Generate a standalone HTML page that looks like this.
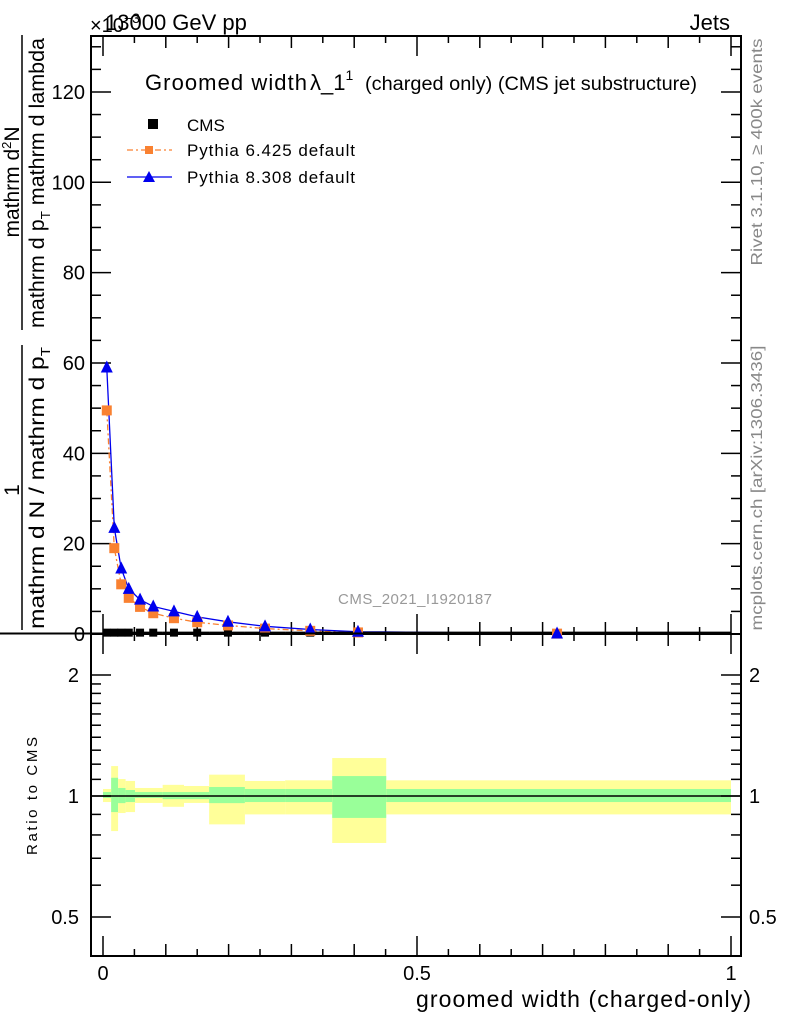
<!DOCTYPE html>
<html><head><meta charset="utf-8"><style>
html,body{margin:0;padding:0;background:#fff}
svg{display:block;font-family:"Liberation Sans",sans-serif}
</style></head><body>
<svg id="chart" xmlns="http://www.w3.org/2000/svg" width="786" height="1024" viewBox="0 0 786 1024">
<g id="bands"></g>
<g id="axes"></g>
<g id="series"></g>
<text x="105" y="30" font-size="22">13000 GeV pp</text>
<text x="90" y="32" font-size="20">×10<tspan font-size="14" dy="-9">−3</tspan></text>
<text x="730" y="30" font-size="22" text-anchor="end">Jets</text>
<text x="145" y="90" font-size="22"><tspan textLength="162">Groomed width</tspan><tspan x="310">λ_1</tspan><tspan font-size="14" dy="-10">1</tspan><tspan font-size="19" dy="10" x="365" textLength="332" lengthAdjust="spacingAndGlyphs">(charged only) (CMS jet substructure)</tspan></text>
<g>
 <rect x="148" y="119" width="10" height="10" fill="#000"/>
 <text x="187" y="131" font-size="17">CMS</text>
 <line x1="127" y1="150" x2="172" y2="150" stroke="#f98131" stroke-width="1.3" stroke-dasharray="6,3,2,3"/>
 <rect x="145" y="146" width="8" height="8" fill="#f98131"/>
 <text x="187" y="156" font-size="17" textLength="168">Pythia 6.425 default</text>
 <line x1="127" y1="177" x2="172" y2="177" stroke="#0000ee" stroke-width="1.3"/>
 <polygon points="149,171 155,182 143,182" fill="#0000ee"/>
 <text x="187" y="183" font-size="17" textLength="168">Pythia 8.308 default</text>
</g>
<text x="415" y="604" font-size="15" fill="#999" text-anchor="middle" textLength="154">CMS_2021_I1920187</text>
<text transform="translate(762,152) rotate(-90)" font-size="16" fill="#888" text-anchor="middle" textLength="227" lengthAdjust="spacingAndGlyphs">Rivet 3.1.10, ≥ 400k events</text>
<text transform="translate(762,488) rotate(-90)" font-size="16" fill="#888" text-anchor="middle" textLength="285" lengthAdjust="spacingAndGlyphs">mcplots.cern.ch [arXiv:1306.3436]</text>
<g>
 <text transform="translate(19,182) rotate(-90)" font-size="21" text-anchor="middle">mathrm d<tspan font-size="13" dy="-8">2</tspan><tspan dy="8">N</tspan></text>
 <line x1="22" y1="35" x2="22" y2="330" stroke="#000" stroke-width="1.5"/>
 <text transform="translate(44,183) rotate(-90)" font-size="21" text-anchor="middle" textLength="290" lengthAdjust="spacingAndGlyphs">mathrm d p<tspan font-size="13" dy="6">T</tspan><tspan dy="-6"> mathrm d lambda</tspan></text>
 <text transform="translate(19,490) rotate(-90)" font-size="21" text-anchor="middle">1</text>
 <line x1="22" y1="345" x2="22" y2="630" stroke="#000" stroke-width="1.5"/>
 <text transform="translate(44,488) rotate(-90)" font-size="21" text-anchor="middle" textLength="282" lengthAdjust="spacingAndGlyphs">mathrm d N / mathrm d p<tspan font-size="13" dy="6">T</tspan></text>
</g>
<text transform="translate(37,796) rotate(-90)" font-size="15" text-anchor="middle" textLength="118">Ratio to CMS</text>
<text x="751" y="1007" font-size="23" text-anchor="end" textLength="335">groomed width (charged-only)</text>
</svg>
<script>
const xCenters=[0.006,0.018,0.029,0.041,0.059,0.080,0.113,0.150,0.199,0.258,0.330,0.406,0.723];
const p8Values=[59,23.5,14.5,10,7.6,6.1,5.0,3.8,2.7,1.7,1.0,0.5,0.1];
const p6Values=[49.5,19,11,8,6,4.6,3.5,2.6,1.9,1.2,0.7,0.35,0.08];
const cmsValues=[0.3,0.3,0.3,0.3,0.3,0.3,0.3,0.3,0.3,0.3,0.3,0.3,0.1];
const binEdges=[0,0.013,0.024,0.036,0.051,0.095,0.129,0.169,0.226,0.290,0.365,0.451,1.0];
const yellowUp=[1.041,1.187,1.102,1.09,1.047,1.066,1.059,1.13,1.09,1.094,1.243,1.094];
const yellowDn=[0.966,0.818,0.907,0.912,0.961,0.94,0.961,0.85,0.9,0.9,0.764,0.9];
const greenUp=[1.023,1.11,1.047,1.035,1.023,1.023,1.023,1.053,1.041,1.041,1.121,1.041];
const greenDn=[0.989,0.912,0.96,0.966,0.989,0.982,0.982,0.96,0.966,0.966,0.882,0.966];
const yTicks=[0,20,40,60,80,100,120];
const rTicks=[0.5,1,2];
const xTicks=[0,0.5,1];

const NS="http://www.w3.org/2000/svg";
const L=91,R=741,T=36,MB=634,RB=956;
const X=v=>103+v*628;
const Y=v=>634-v*4.517;
const RY=r=>796-121*Math.log2(r);
function mk(parent,tag,attrs){const e=document.createElementNS(NS,tag);for(const k in attrs)e.setAttribute(k,attrs[k]);parent.appendChild(e);return e;}
const axes=document.getElementById('axes'),series=document.getElementById('series'),bands=document.getElementById('bands');

for(let i=0;i<binEdges.length-1;i++){
 const x1=X(binEdges[i]),x2=X(binEdges[i+1]);
 const y=mk(bands,'rect',{x:x1,y:RY(yellowUp[i]),width:x2-x1,height:RY(yellowDn[i])-RY(yellowUp[i]),fill:'#ffff99'});
 
 
 const g=mk(bands,'rect',{x:x1,y:RY(greenUp[i]),width:x2-x1,height:RY(greenDn[i])-RY(greenUp[i]),fill:'#99ff99'});
 
 
}
const ref=mk(axes,'line',{x1:L,x2:R,y1:RY(1),y2:RY(1),stroke:'#000','stroke-width':1.5});



[[T,MB],[MB,RB]].forEach(([a,b])=>{const f=mk(axes,'rect',{x:L,y:a,width:R-L,height:b-a,fill:'none',stroke:'#000','stroke-width':2});
 
 });

for(let v=0;v<=130;v+=5){const y=Y(v);if(y<T)break;const len=v%20===0?20:10;
 mk(axes,'line',{x1:L,x2:L+len,y1:y,y2:y,stroke:'#000','stroke-width':1.5});
 mk(axes,'line',{x1:R,x2:R-len,y1:y,y2:y,stroke:'#000','stroke-width':1.5});}
yTicks.forEach(v=>{const t=mk(axes,'text',{x:L-6,y:Y(v)+7,'font-size':20,'text-anchor':'end'});t.textContent=v;
 
 });
const rMinor=[0.4,0.5,0.6,0.7,0.8,0.9,1,1.1,1.2,1.3,1.4,1.5,1.6,1.7,1.8,1.9,2];
rMinor.forEach(v=>{const y=RY(v);const len=rTicks.includes(v)?20:10;
 mk(axes,'line',{x1:L,x2:L+len,y1:y,y2:y,stroke:'#000','stroke-width':1.5});
 mk(axes,'line',{x1:R,x2:R-len,y1:y,y2:y,stroke:'#000','stroke-width':1.5});});
rTicks.forEach(v=>{const y=RY(v)+7;
 const t=mk(axes,'text',{x:L-12,y:y,'font-size':20,'text-anchor':'end'});t.textContent=v;
 
 
 const t2=mk(axes,'text',{x:R+8,y:y,'font-size':20});t2.textContent=v;
 
 });
for(let k=0;k<=20;k++){const v=k*0.05,x=X(v);const len=k%10===0?20:(k%2===0?12:7);
 [[MB,-1],[T,1],[RB,-1],[MB,1]].forEach(([y0,d])=>mk(axes,'line',{x1:x,x2:x,y1:y0,y2:y0+d*len,stroke:'#000','stroke-width':1.5}));}
xTicks.forEach(v=>{const t=mk(axes,'text',{x:X(v),y:980,'font-size':20,'text-anchor':'middle'});t.textContent=v;
 
 });

const p6=mk(series,'polyline',{points:xCenters.map((x,i)=>X(x)+','+Y(p6Values[i])).join(' '),fill:'none',stroke:'#f98131','stroke-width':1.3,'stroke-dasharray':'6,3,2,3'});


const p8=mk(series,'polyline',{points:xCenters.map((x,i)=>X(x)+','+Y(p8Values[i])).join(' '),fill:'none',stroke:'#0000ee','stroke-width':1.3});


xCenters.forEach((x,i)=>{
 const e=mk(series,'line',{x1:X(binEdges[i]),x2:X(binEdges[i+1]),y1:Y(cmsValues[i]),y2:Y(cmsValues[i]),stroke:'#000','stroke-width':2});
 
 
 const c=mk(series,'rect',{x:X(x)-4,y:Y(cmsValues[i])-4,width:8,height:8,fill:'#000'});
 
 
 const o=mk(series,'rect',{x:X(x)-5,y:Y(p6Values[i])-5,width:10,height:10,fill:'#f98131'});
 
 
 const px=X(x),py=Y(p8Values[i]);
 const t=mk(series,'polygon',{points:`${px},${py-7} ${px+6},${py+5} ${px-6},${py+5}`,fill:'#0000ee'});
 
 
});
</script>
</body></html>
